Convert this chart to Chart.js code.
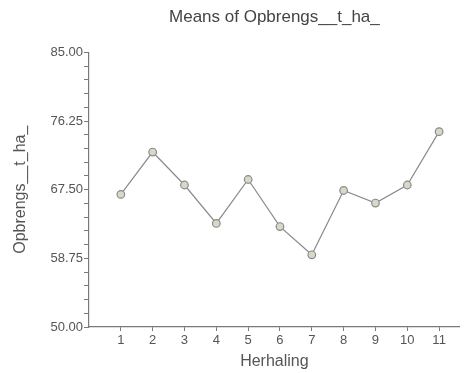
<!DOCTYPE html>
<html>
<head>
<meta charset="utf-8">
<script src="https://cdn.jsdelivr.net/npm/chart.js@4.4.1/dist/chart.umd.min.js"></script>
<style>
  html, body { margin: 0; padding: 0; background: #fff; }
  #wrap { width: 465px; height: 373px; }
</style>
</head>
<body>
<div id="wrap"><canvas id="myChart" width="465" height="373"></canvas></div>
<script>
// data
var herhaling = [1, 2, 3, 4, 5, 6, 7, 8, 9, 10, 11];
var means = [66.9, 72.3, 68.1, 63.2, 68.8, 62.8, 59.2, 67.4, 65.8, 68.1, 74.9];
var yLabels = [50.00, 58.75, 67.50, 76.25, 85.00];

var points = herhaling.map(function (h, i) { return { x: h, y: means[i] }; });
var axisColor = '#7a7a7a';
var textColor = '#555';

new Chart('myChart', {
  type: 'line',
  data: {
    datasets: [{
      data: points,
      borderColor: '#8a8a8a',
      borderWidth: 1.2,
      pointRadius: 3.8,
      pointBorderWidth: 1.2,
      pointBorderColor: '#8a8a8a',
      pointBackgroundColor: '#d8d8c8',
      fill: false,
      tension: 0
    }]
  },
  options: {
    responsive: false,
    animation: false,
    layout: { padding: { left: 4, right: 3, top: 0, bottom: 2 } },
    plugins: {
      legend: { display: false },
      tooltip: { enabled: false },
      title: {
        display: true,
        fullSize: false,
        text: 'Means of Opbrengs__t_ha_',
        color: '#444',
        font: { family: 'Liberation Sans', size: 17, weight: 'normal' },
        padding: { top: 7, bottom: 25 }
      }
    },
    scales: {
      x: {
        type: 'linear',
        min: 0,
        max: 11.65,
        afterBuildTicks: function (scale) {
          scale.ticks = herhaling.map(function (v) { return { value: v }; });
        },
        afterFit: function (scale) { scale.height = 44; },
        border: { display: true, color: axisColor, width: 1.2 },
        grid: { display: true, drawOnChartArea: false, drawTicks: true, tickLength: 4, color: axisColor },
        ticks: {
          color: textColor,
          font: { family: 'Liberation Sans', size: 13 },
          padding: 2,
          maxRotation: 0,
          autoSkip: false
        },
        title: {
          display: true,
          text: 'Herhaling',
          color: textColor,
          font: { family: 'Liberation Sans', size: 16 },
          padding: { top: 0, bottom: 0 }
        }
      },
      y: {
        min: 50,
        max: 85,
        afterFit: function (scale) { scale.width = 85; },
        border: { display: true, color: axisColor, width: 1.2 },
        grid: { display: true, drawOnChartArea: false, drawTicks: true, tickLength: 5, color: axisColor },
        ticks: {
          stepSize: 1.75,
          autoSkip: false,
          color: textColor,
          font: { family: 'Liberation Sans', size: 13 },
          padding: 1,
          callback: function (v) {
            var hit = yLabels.find(function (l) { return Math.abs(l - v) < 0.01; });
            return hit === undefined ? '' : hit.toFixed(2);
          }
        },
        title: {
          display: true,
          text: 'Opbrengs__t_ha_',
          color: textColor,
          font: { family: 'Liberation Sans', size: 16 },
          padding: { top: 7, bottom: 0 }
        }
      }
    }
  }
});
</script>
</body>
</html>
